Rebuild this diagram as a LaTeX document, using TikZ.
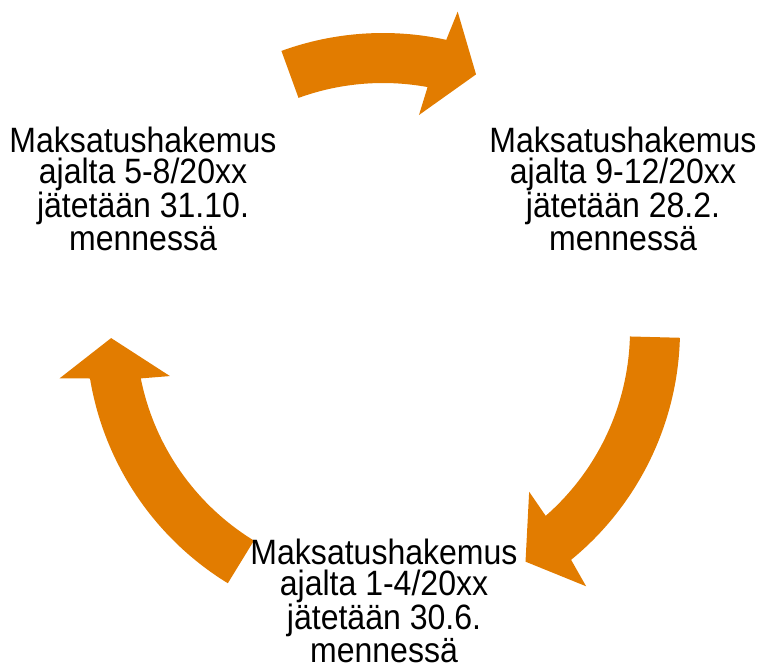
\documentclass[tikz,border=0pt]{standalone}
\usepackage{fontspec}
\setmainfont{Liberation Sans}
\newfontfamily\stepfont{Liberation Sans}[FakeStretch=0.91]
\usepackage{xcolor}
\usepackage{tikz}
\definecolor{cycleorange}{RGB}{226,124,0}
\tikzset{
  cyclefill/.style={fill=cycleorange},
  steptext/.style={inner sep=0pt,align=center,font=\stepfont\fontsize{26.4}{22.9}\selectfont}
}
% #1 tail angle, #2 tip angle (measured from the hub, clockwise arrows)
\newcommand{\cyclearrow}[2]{%
  \fill[cyclefill] (#1:297) arc[start angle=#1, end angle=#2+7.7, radius=297] -- ({#2+6.8}:327) -- (#2:272) -- ({#2+10.5}:218) -- ({#2+9.6}:247) arc[start angle=#2+9.6, end angle=#1, radius=247] -- cycle;}

\begin{document}
\begin{tikzpicture}[x=0.75pt,y=0.75pt,yscale=-1,xscale=1]
\useasboundingbox (0,0) rectangle (759,667);

\coordinate (hub) at (383,330);

%Shape: Circular arrows
\begin{scope}[shift={(hub)},yscale=-1]
\cyclearrow{110}{70}
\cyclearrow{-1.5}{-58.4}
\cyclearrow{238.5}{181.7}
\end{scope}

% Text Node
\node[steptext] (lefttext) at (143,189) {Maksatushakemus\\ajalta 5-8/20xx\\jätetään 31.10.\\mennessä};
% Text Node
\node[steptext] (righttext) at (623,189) {Maksatushakemus\\ajalta 9-12/20xx\\jätetään 28.2.\\mennessä};
% Text Node
\node[steptext] (bottomtext) at (384,601) {Maksatushakemus\\ajalta 1-4/20xx\\jätetään 30.6.\\mennessä};

\end{tikzpicture}
\end{document}
